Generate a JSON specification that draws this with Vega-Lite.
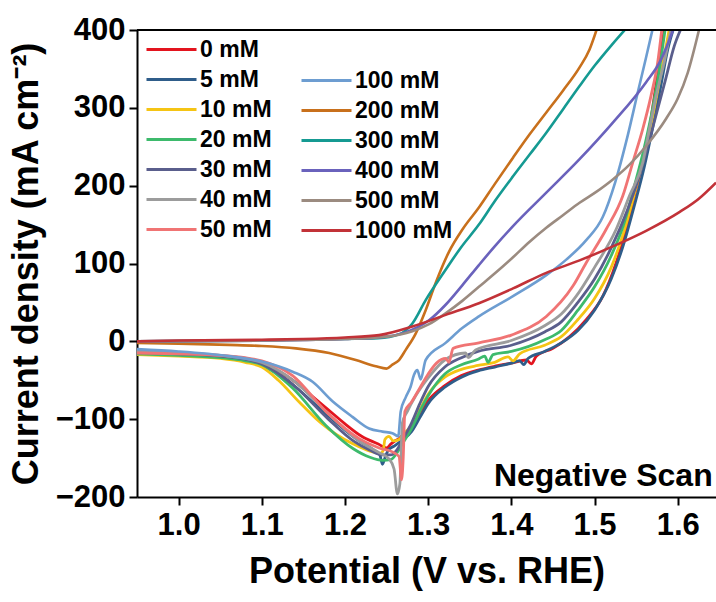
{
  "$schema": "https://vega.github.io/schema/vega-lite/v6.json",
  "autosize": {"type": "none"},
  "padding": {"left": 137, "top": 30, "right": 0, "bottom": 105},
  "width": 579,
  "height": 467,
  "background": "white",
  "config": {"view": {"stroke": null}, "font": "Liberation Sans"},
  "datasets": {
    "lo": [
      {"s":"0 mM","x":0.95,"y":-15},{"s":"0 mM","x":1.0,"y":-17},{"s":"0 mM","x":1.05,"y":-20},{"s":"0 mM","x":1.08,"y":-24},{"s":"0 mM","x":1.1,"y":-29},{"s":"0 mM","x":1.12,"y":-38},{"s":"0 mM","x":1.14,"y":-52},{"s":"0 mM","x":1.16,"y":-70},{"s":"0 mM","x":1.18,"y":-88},{"s":"0 mM","x":1.2,"y":-106},{"s":"0 mM","x":1.22,"y":-122},{"s":"0 mM","x":1.24,"y":-132},{"s":"0 mM","x":1.25,"y":-137},{"s":"0 mM","x":1.255,"y":-132},{"s":"0 mM","x":1.26,"y":-128},{"s":"0 mM","x":1.265,"y":-125},{"s":"0 mM","x":1.27,"y":-120},{"s":"0 mM","x":1.28,"y":-110},{"s":"0 mM","x":1.29,"y":-92},{"s":"0 mM","x":1.3,"y":-76},{"s":"0 mM","x":1.32,"y":-57},{"s":"0 mM","x":1.34,"y":-44},{"s":"0 mM","x":1.36,"y":-37},{"s":"0 mM","x":1.38,"y":-32},{"s":"0 mM","x":1.4,"y":-28},{"s":"0 mM","x":1.418,"y":-24},{"s":"0 mM","x":1.424,"y":-29},{"s":"0 mM","x":1.43,"y":-19},{"s":"0 mM","x":1.45,"y":-9},{"s":"0 mM","x":1.47,"y":6},{"s":"0 mM","x":1.49,"y":28},{"s":"0 mM","x":1.51,"y":58},{"s":"0 mM","x":1.526,"y":101},{"s":"0 mM","x":1.538,"y":144},{"s":"0 mM","x":1.548,"y":187},{"s":"0 mM","x":1.558,"y":230},{"s":"0 mM","x":1.566,"y":273},{"s":"0 mM","x":1.572,"y":316},{"s":"0 mM","x":1.578,"y":359},{"s":"0 mM","x":1.584,"y":402},

      {"s":"5 mM","x":0.95,"y":-13},{"s":"5 mM","x":1.0,"y":-16},{"s":"5 mM","x":1.05,"y":-20},{"s":"5 mM","x":1.08,"y":-25},{"s":"5 mM","x":1.1,"y":-31},{"s":"5 mM","x":1.12,"y":-42},{"s":"5 mM","x":1.14,"y":-58},{"s":"5 mM","x":1.16,"y":-77},{"s":"5 mM","x":1.18,"y":-96},{"s":"5 mM","x":1.2,"y":-114},{"s":"5 mM","x":1.22,"y":-130},{"s":"5 mM","x":1.235,"y":-140},{"s":"5 mM","x":1.242,"y":-146},{"s":"5 mM","x":1.245,"y":-158},{"s":"5 mM","x":1.248,"y":-150},{"s":"5 mM","x":1.252,"y":-140},{"s":"5 mM","x":1.26,"y":-134},{"s":"5 mM","x":1.27,"y":-126},{"s":"5 mM","x":1.28,"y":-116},{"s":"5 mM","x":1.29,"y":-98},{"s":"5 mM","x":1.3,"y":-80},{"s":"5 mM","x":1.32,"y":-59},{"s":"5 mM","x":1.34,"y":-46},{"s":"5 mM","x":1.36,"y":-38},{"s":"5 mM","x":1.38,"y":-33},{"s":"5 mM","x":1.4,"y":-28},{"s":"5 mM","x":1.41,"y":-25},{"s":"5 mM","x":1.415,"y":-30},{"s":"5 mM","x":1.42,"y":-22},{"s":"5 mM","x":1.44,"y":-13},{"s":"5 mM","x":1.46,"y":-2},{"s":"5 mM","x":1.48,"y":14},{"s":"5 mM","x":1.5,"y":40},{"s":"5 mM","x":1.52,"y":80},{"s":"5 mM","x":1.535,"y":125},{"s":"5 mM","x":1.548,"y":175},{"s":"5 mM","x":1.56,"y":225},{"s":"5 mM","x":1.57,"y":275},{"s":"5 mM","x":1.58,"y":330},{"s":"5 mM","x":1.588,"y":375},{"s":"5 mM","x":1.595,"y":402},

      {"s":"10 mM","x":0.95,"y":-17},{"s":"10 mM","x":1.0,"y":-19},{"s":"10 mM","x":1.05,"y":-22},{"s":"10 mM","x":1.08,"y":-27},{"s":"10 mM","x":1.1,"y":-33},{"s":"10 mM","x":1.12,"y":-50},{"s":"10 mM","x":1.145,"y":-78},{"s":"10 mM","x":1.17,"y":-104},{"s":"10 mM","x":1.19,"y":-120},{"s":"10 mM","x":1.21,"y":-132},{"s":"10 mM","x":1.23,"y":-141},{"s":"10 mM","x":1.242,"y":-144},{"s":"10 mM","x":1.246,"y":-140},{"s":"10 mM","x":1.248,"y":-126},{"s":"10 mM","x":1.253,"y":-122},{"s":"10 mM","x":1.258,"y":-128},{"s":"10 mM","x":1.265,"y":-126},{"s":"10 mM","x":1.27,"y":-120},{"s":"10 mM","x":1.28,"y":-108},{"s":"10 mM","x":1.29,"y":-88},{"s":"10 mM","x":1.3,"y":-68},{"s":"10 mM","x":1.32,"y":-46},{"s":"10 mM","x":1.34,"y":-36},{"s":"10 mM","x":1.36,"y":-31},{"s":"10 mM","x":1.38,"y":-27},{"s":"10 mM","x":1.396,"y":-20},{"s":"10 mM","x":1.402,"y":-25},{"s":"10 mM","x":1.41,"y":-16},{"s":"10 mM","x":1.44,"y":-5},{"s":"10 mM","x":1.46,"y":6},{"s":"10 mM","x":1.48,"y":28},{"s":"10 mM","x":1.5,"y":55},{"s":"10 mM","x":1.52,"y":95},{"s":"10 mM","x":1.535,"y":140},{"s":"10 mM","x":1.548,"y":190},{"s":"10 mM","x":1.56,"y":240},{"s":"10 mM","x":1.57,"y":290},{"s":"10 mM","x":1.58,"y":345},{"s":"10 mM","x":1.59,"y":402},

      {"s":"20 mM","x":0.95,"y":-16},{"s":"20 mM","x":1.0,"y":-18},{"s":"20 mM","x":1.05,"y":-21},{"s":"20 mM","x":1.08,"y":-25},{"s":"20 mM","x":1.1,"y":-30},{"s":"20 mM","x":1.137,"y":-60},{"s":"20 mM","x":1.177,"y":-108},{"s":"20 mM","x":1.21,"y":-138},{"s":"20 mM","x":1.23,"y":-149},{"s":"20 mM","x":1.245,"y":-153},{"s":"20 mM","x":1.255,"y":-152},{"s":"20 mM","x":1.262,"y":-144},{"s":"20 mM","x":1.27,"y":-130},{"s":"20 mM","x":1.28,"y":-112},{"s":"20 mM","x":1.29,"y":-90},{"s":"20 mM","x":1.3,"y":-70},{"s":"20 mM","x":1.32,"y":-42},{"s":"20 mM","x":1.34,"y":-30},{"s":"20 mM","x":1.36,"y":-23},{"s":"20 mM","x":1.368,"y":-19},{"s":"20 mM","x":1.372,"y":-27},{"s":"20 mM","x":1.378,"y":-17},{"s":"20 mM","x":1.4,"y":-13},{"s":"20 mM","x":1.44,"y":2},{"s":"20 mM","x":1.46,"y":14},{"s":"20 mM","x":1.48,"y":40},{"s":"20 mM","x":1.5,"y":70},{"s":"20 mM","x":1.52,"y":110},{"s":"20 mM","x":1.535,"y":150},{"s":"20 mM","x":1.548,"y":200},{"s":"20 mM","x":1.56,"y":250},{"s":"20 mM","x":1.57,"y":300},{"s":"20 mM","x":1.578,"y":350},{"s":"20 mM","x":1.585,"y":402},

      {"s":"30 mM","x":0.95,"y":-14},{"s":"30 mM","x":1.0,"y":-16},{"s":"30 mM","x":1.05,"y":-19},{"s":"30 mM","x":1.08,"y":-23},{"s":"30 mM","x":1.1,"y":-29},{"s":"30 mM","x":1.14,"y":-58},{"s":"30 mM","x":1.18,"y":-100},{"s":"30 mM","x":1.21,"y":-128},{"s":"30 mM","x":1.23,"y":-140},{"s":"30 mM","x":1.245,"y":-146},{"s":"30 mM","x":1.255,"y":-146},{"s":"30 mM","x":1.262,"y":-140},{"s":"30 mM","x":1.27,"y":-125},{"s":"30 mM","x":1.28,"y":-105},{"s":"30 mM","x":1.29,"y":-80},{"s":"30 mM","x":1.3,"y":-58},{"s":"30 mM","x":1.32,"y":-33},{"s":"30 mM","x":1.34,"y":-21},{"s":"30 mM","x":1.36,"y":-13},{"s":"30 mM","x":1.4,"y":-5},{"s":"30 mM","x":1.44,"y":12},{"s":"30 mM","x":1.46,"y":25},{"s":"30 mM","x":1.48,"y":50},{"s":"30 mM","x":1.5,"y":80},{"s":"30 mM","x":1.52,"y":120},{"s":"30 mM","x":1.54,"y":170},{"s":"30 mM","x":1.556,"y":220},{"s":"30 mM","x":1.57,"y":275},{"s":"30 mM","x":1.585,"y":335},{"s":"30 mM","x":1.596,"y":380},{"s":"30 mM","x":1.604,"y":402},

      {"s":"40 mM","x":0.95,"y":-13},{"s":"40 mM","x":1.0,"y":-15},{"s":"40 mM","x":1.05,"y":-18},{"s":"40 mM","x":1.08,"y":-22},{"s":"40 mM","x":1.1,"y":-27},{"s":"40 mM","x":1.14,"y":-52},{"s":"40 mM","x":1.18,"y":-93},{"s":"40 mM","x":1.217,"y":-128},{"s":"40 mM","x":1.241,"y":-143},{"s":"40 mM","x":1.253,"y":-151},{"s":"40 mM","x":1.259,"y":-164},{"s":"40 mM","x":1.263,"y":-196},{"s":"40 mM","x":1.266,"y":-183},{"s":"40 mM","x":1.269,"y":-105},{"s":"40 mM","x":1.275,"y":-90},{"s":"40 mM","x":1.285,"y":-70},{"s":"40 mM","x":1.3,"y":-47},{"s":"40 mM","x":1.32,"y":-24},{"s":"40 mM","x":1.345,"y":-15},{"s":"40 mM","x":1.348,"y":-21},{"s":"40 mM","x":1.357,"y":-11},{"s":"40 mM","x":1.4,"y":1},{"s":"40 mM","x":1.44,"y":20},{"s":"40 mM","x":1.46,"y":35},{"s":"40 mM","x":1.478,"y":58},{"s":"40 mM","x":1.5,"y":95},{"s":"40 mM","x":1.526,"y":144},{"s":"40 mM","x":1.542,"y":187},{"s":"40 mM","x":1.558,"y":230},{"s":"40 mM","x":1.566,"y":273},{"s":"40 mM","x":1.575,"y":320},{"s":"40 mM","x":1.584,"y":360},{"s":"40 mM","x":1.592,"y":402},

      {"s":"50 mM","x":0.95,"y":-15},{"s":"50 mM","x":1.0,"y":-16},{"s":"50 mM","x":1.05,"y":-18},{"s":"50 mM","x":1.08,"y":-21},{"s":"50 mM","x":1.1,"y":-25},{"s":"50 mM","x":1.137,"y":-44},{"s":"50 mM","x":1.177,"y":-90},{"s":"50 mM","x":1.217,"y":-125},{"s":"50 mM","x":1.241,"y":-137},{"s":"50 mM","x":1.257,"y":-142},{"s":"50 mM","x":1.265,"y":-148},{"s":"50 mM","x":1.268,"y":-178},{"s":"50 mM","x":1.27,"y":-150},{"s":"50 mM","x":1.272,"y":-90},{"s":"50 mM","x":1.28,"y":-78},{"s":"50 mM","x":1.29,"y":-60},{"s":"50 mM","x":1.3,"y":-42},{"s":"50 mM","x":1.31,"y":-28},{"s":"50 mM","x":1.321,"y":-22},{"s":"50 mM","x":1.325,"y":-27},{"s":"50 mM","x":1.33,"y":-9},{"s":"50 mM","x":1.361,"y":-2},{"s":"50 mM","x":1.4,"y":8},{"s":"50 mM","x":1.442,"y":32},{"s":"50 mM","x":1.474,"y":71},{"s":"50 mM","x":1.49,"y":101},{"s":"50 mM","x":1.514,"y":144},{"s":"50 mM","x":1.534,"y":187},{"s":"50 mM","x":1.546,"y":230},{"s":"50 mM","x":1.558,"y":273},{"s":"50 mM","x":1.568,"y":316},{"s":"50 mM","x":1.576,"y":359},{"s":"50 mM","x":1.581,"y":402}
    ],
    "hi": [
      {"s":"100 mM","x":0.95,"y":-10},{"s":"100 mM","x":1.0,"y":-13},{"s":"100 mM","x":1.06,"y":-19},{"s":"100 mM","x":1.1,"y":-26},{"s":"100 mM","x":1.137,"y":-39},{"s":"100 mM","x":1.161,"y":-52},{"s":"100 mM","x":1.185,"y":-77},{"s":"100 mM","x":1.209,"y":-97},{"s":"100 mM","x":1.229,"y":-112},{"s":"100 mM","x":1.245,"y":-116},{"s":"100 mM","x":1.257,"y":-118},{"s":"100 mM","x":1.264,"y":-122},{"s":"100 mM","x":1.267,"y":-90},{"s":"100 mM","x":1.273,"y":-72},{"s":"100 mM","x":1.279,"y":-58},{"s":"100 mM","x":1.283,"y":-43},{"s":"100 mM","x":1.287,"y":-37},{"s":"100 mM","x":1.291,"y":-49},{"s":"100 mM","x":1.297,"y":-24},{"s":"100 mM","x":1.321,"y":-2},{"s":"100 mM","x":1.341,"y":17},{"s":"100 mM","x":1.361,"y":32},{"s":"100 mM","x":1.402,"y":58},{"s":"100 mM","x":1.442,"y":85},{"s":"100 mM","x":1.466,"y":105},{"s":"100 mM","x":1.49,"y":130},{"s":"100 mM","x":1.51,"y":160},{"s":"100 mM","x":1.525,"y":205},{"s":"100 mM","x":1.54,"y":265},{"s":"100 mM","x":1.552,"y":320},{"s":"100 mM","x":1.562,"y":365},{"s":"100 mM","x":1.57,"y":402},

      {"s":"200 mM","x":0.95,"y":-2},{"s":"200 mM","x":1.0,"y":-3},{"s":"200 mM","x":1.06,"y":-4.6},{"s":"200 mM","x":1.1,"y":-6},{"s":"200 mM","x":1.141,"y":-9},{"s":"200 mM","x":1.181,"y":-15},{"s":"200 mM","x":1.213,"y":-24},{"s":"200 mM","x":1.237,"y":-32},{"s":"200 mM","x":1.25,"y":-35},{"s":"200 mM","x":1.257,"y":-30},{"s":"200 mM","x":1.265,"y":-24},{"s":"200 mM","x":1.273,"y":-11},{"s":"200 mM","x":1.285,"y":10},{"s":"200 mM","x":1.297,"y":40},{"s":"200 mM","x":1.309,"y":75},{"s":"200 mM","x":1.325,"y":115},{"s":"200 mM","x":1.342,"y":145},{"s":"200 mM","x":1.361,"y":172},{"s":"200 mM","x":1.38,"y":202},{"s":"200 mM","x":1.402,"y":236},{"s":"200 mM","x":1.422,"y":266},{"s":"200 mM","x":1.442,"y":294},{"s":"200 mM","x":1.462,"y":322},{"s":"200 mM","x":1.482,"y":352},{"s":"200 mM","x":1.494,"y":375},{"s":"200 mM","x":1.503,"y":402},

      {"s":"300 mM","x":0.95,"y":0},{"s":"300 mM","x":1.1,"y":1},{"s":"300 mM","x":1.2,"y":3},{"s":"300 mM","x":1.24,"y":4},{"s":"300 mM","x":1.265,"y":9},{"s":"300 mM","x":1.281,"y":23},{"s":"300 mM","x":1.297,"y":53},{"s":"300 mM","x":1.321,"y":92},{"s":"300 mM","x":1.339,"y":120},{"s":"300 mM","x":1.361,"y":150},{"s":"300 mM","x":1.38,"y":180},{"s":"300 mM","x":1.402,"y":212},{"s":"300 mM","x":1.422,"y":240},{"s":"300 mM","x":1.442,"y":268},{"s":"300 mM","x":1.462,"y":298},{"s":"300 mM","x":1.482,"y":328},{"s":"300 mM","x":1.5,"y":354},{"s":"300 mM","x":1.52,"y":380},{"s":"300 mM","x":1.538,"y":402},

      {"s":"400 mM","x":0.95,"y":0},{"s":"400 mM","x":1.1,"y":1},{"s":"400 mM","x":1.2,"y":3},{"s":"400 mM","x":1.25,"y":6},{"s":"400 mM","x":1.281,"y":15},{"s":"400 mM","x":1.301,"y":27},{"s":"400 mM","x":1.321,"y":47},{"s":"400 mM","x":1.341,"y":72},{"s":"400 mM","x":1.361,"y":98},{"s":"400 mM","x":1.38,"y":122},{"s":"400 mM","x":1.402,"y":148},{"s":"400 mM","x":1.442,"y":191},{"s":"400 mM","x":1.482,"y":234},{"s":"400 mM","x":1.522,"y":281},{"s":"400 mM","x":1.562,"y":333},{"s":"400 mM","x":1.58,"y":362},{"s":"400 mM","x":1.595,"y":402},

      {"s":"500 mM","x":0.95,"y":0},{"s":"500 mM","x":1.1,"y":1},{"s":"500 mM","x":1.2,"y":3},{"s":"500 mM","x":1.25,"y":6},{"s":"500 mM","x":1.281,"y":13},{"s":"500 mM","x":1.301,"y":22},{"s":"500 mM","x":1.321,"y":36},{"s":"500 mM","x":1.341,"y":52},{"s":"500 mM","x":1.361,"y":70},{"s":"500 mM","x":1.381,"y":88},{"s":"500 mM","x":1.402,"y":108},{"s":"500 mM","x":1.422,"y":128},{"s":"500 mM","x":1.442,"y":146},{"s":"500 mM","x":1.462,"y":162},{"s":"500 mM","x":1.482,"y":178},{"s":"500 mM","x":1.502,"y":192},{"s":"500 mM","x":1.522,"y":208},{"s":"500 mM","x":1.542,"y":227},{"s":"500 mM","x":1.562,"y":251},{"s":"500 mM","x":1.586,"y":286},{"s":"500 mM","x":1.6,"y":312},{"s":"500 mM","x":1.612,"y":345},{"s":"500 mM","x":1.626,"y":402},

      {"s":"1000 mM","x":0.95,"y":0},{"s":"1000 mM","x":1.0,"y":1},{"s":"1000 mM","x":1.1,"y":2},{"s":"1000 mM","x":1.15,"y":3},{"s":"1000 mM","x":1.2,"y":5},{"s":"1000 mM","x":1.241,"y":8},{"s":"1000 mM","x":1.281,"y":19},{"s":"1000 mM","x":1.321,"y":34},{"s":"1000 mM","x":1.361,"y":49},{"s":"1000 mM","x":1.402,"y":68},{"s":"1000 mM","x":1.442,"y":88},{"s":"1000 mM","x":1.482,"y":104},{"s":"1000 mM","x":1.522,"y":122},{"s":"1000 mM","x":1.562,"y":142},{"s":"1000 mM","x":1.602,"y":166},{"s":"1000 mM","x":1.625,"y":183},{"s":"1000 mM","x":1.646,"y":204}
    ]
  },
  "layer": [
    {
      "data": {"name": "lo"},
      "mark": {"type": "line", "strokeWidth": 2.8, "clip": true, "strokeJoin": "round", "interpolate": "monotone"},
      "encoding": {
        "x": {"field": "x", "type": "quantitative", "title": "Potential (V vs. RHE)",
          "scale": {"domain": [0.95, 1.646], "nice": false, "zero": false},
          "axis": {"values": [1.0, 1.1, 1.2, 1.3, 1.4, 1.5, 1.6], "format": ".1f", "grid": false,
            "domainColor": "black", "domainWidth": 2, "tickColor": "black", "tickWidth": 2, "tickSize": 8,
            "labelFont": "Liberation Sans", "labelFontSize": 31, "labelFontWeight": "bold", "labelColor": "black", "labelPadding": 5,
            "titleFont": "Liberation Sans", "titleFontSize": 36, "titleFontWeight": "bold", "titleColor": "black", "titlePadding": 14}},
        "y": {"field": "y", "type": "quantitative", "title": "Current density (mA cm⁻²)",
          "scale": {"domain": [-200, 400], "nice": false, "zero": false},
          "axis": {"values": [-200, -150, -100, -50, 0, 50, 100, 150, 200, 250, 300, 350, 400],
            "labelExpr": "datum.value % 100 === 0 ? datum.label : ''", "grid": false,
            "domainColor": "black", "domainWidth": 2, "tickColor": "black", "tickWidth": 2,
            "tickSize": {"condition": {"test": "datum.value % 100 === 0", "value": 8}, "value": 5},
            "labelFont": "Liberation Sans", "labelFontSize": 31, "labelFontWeight": "bold", "labelColor": "black", "labelPadding": 4,
            "titleFont": "Liberation Sans", "titleFontSize": 36, "titleFontWeight": "bold", "titleColor": "black", "titlePadding": 10}},
        "color": {"field": "s", "type": "nominal",
          "scale": {"domain": ["0 mM", "5 mM", "10 mM", "20 mM", "30 mM", "40 mM", "50 mM"],
            "range": ["#E3141E", "#2F5D8A", "#F5C414", "#3DBA6C", "#5A5E8C", "#9C9C9C", "#F07474"]},
          "legend": {"orient": "none", "legendX": 23, "legendY": 8, "title": null, "padding": 0,
            "symbolType": "M-5,0H5", "symbolSize": 100, "symbolStrokeWidth": 3, "rowPadding": 6,
            "labelFont": "Liberation Sans", "labelFontSize": 23, "labelFontWeight": "bold", "labelColor": "black", "labelOffset": 17}}
      }
    },
    {
      "data": {"name": "hi"},
      "mark": {"type": "line", "strokeWidth": 2.6, "clip": true, "strokeJoin": "round", "interpolate": "monotone"},
      "encoding": {
        "x": {"field": "x", "type": "quantitative", "title": "Potential (V vs. RHE)"},
        "y": {"field": "y", "type": "quantitative", "title": "Current density (mA cm⁻²)"},
        "color": {"field": "s", "type": "nominal",
          "scale": {"domain": ["100 mM", "200 mM", "300 mM", "400 mM", "500 mM", "1000 mM"],
            "range": ["#6D9DD1", "#C8701C", "#159A92", "#6A62BC", "#9B8B80", "#C23238"]},
          "legend": {"orient": "none", "legendX": 178, "legendY": 39, "title": null, "padding": 0,
            "symbolType": "M-5,0H5", "symbolSize": 100, "symbolStrokeWidth": 3, "rowPadding": 6,
            "labelFont": "Liberation Sans", "labelFontSize": 23, "labelFontWeight": "bold", "labelColor": "black", "labelOffset": 17}}
      }
    },
    {
      "data": {"values": [{}]},
      "mark": {"type": "rule", "stroke": "black", "strokeWidth": 2},
      "encoding": {"y": {"datum": 400}}
    },
    {
      "data": {"values": [{}]},
      "mark": {"type": "text", "text": "Negative Scan", "align": "right", "baseline": "alphabetic",
        "font": "Liberation Sans", "fontSize": 32, "fontWeight": "bold", "color": "black"},
      "encoding": {"x": {"datum": 1.642}, "y": {"datum": -186}}
    }
  ],
  "resolve": {"scale": {"color": "independent"}}
}
